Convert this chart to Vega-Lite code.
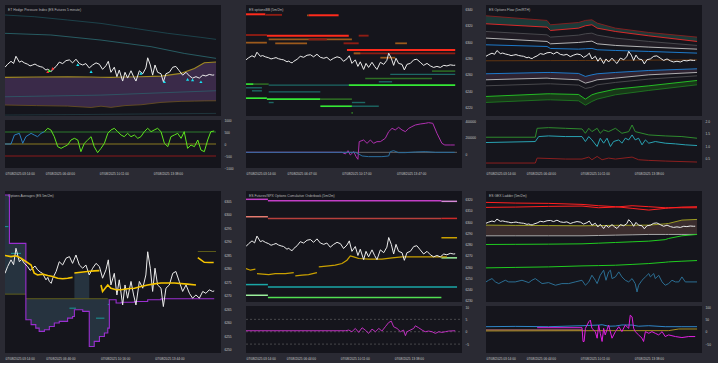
{
"$schema":"https://vega.github.io/schema/vega-lite/v6.json",
"background":"#2a2a33",
"padding":{"left":4,"top":5,"right":2,"bottom":2},
"spacing":15,
"resolve":{"scale":{"color":"independent","strokeWidth":"independent","x":"independent","y":"independent"}},
"config":{
 "view":{"fill":"#15151c","stroke":null},
 "axis":{"grid":false,"domain":false,"ticks":false,"labelFontSize":3.2,"labelColor":"#c8c8c8","labelPadding":3,"labelFont":"Liberation Sans"},
 "axisX":{"labelFlush":true,"minExtent":8,"maxExtent":8},
 "axisY":{"minExtent":14,"maxExtent":14},
 "title":{"anchor":"start","fontSize":3.4,"color":"#b8b8b8","fontWeight":"normal","offset":-6,"dx":3,"frame":"group","baseline":"bottom","font":"Liberation Sans"}
},
"datasets":{
 "px":[{"m":0,"v":6278.3},{"m":10,"v":6280.8},{"m":23,"v":6283.3},{"m":33,"v":6281.5},{"m":42,"v":6287.6},{"m":55,"v":6282.6},{"m":64,"v":6283.5},{"m":74,"v":6282.0},{"m":87,"v":6280.8},{"m":96,"v":6279.4},{"m":106,"v":6280.2},{"m":115,"v":6281.0},{"m":125,"v":6279.6},{"m":135,"v":6278.8},{"m":144,"v":6278.3},{"m":157,"v":6275.9},{"m":164,"v":6276.8},{"m":170,"v":6275.3},{"m":177,"v":6274.6},{"m":183,"v":6276.5},{"m":196,"v":6279.0},{"m":208,"v":6282.6},{"m":221,"v":6281.4},{"m":234,"v":6283.9},{"m":247,"v":6284.5},{"m":259,"v":6282.0},{"m":272,"v":6285.1},{"m":285,"v":6281.4},{"m":298,"v":6280.2},{"m":310,"v":6281.4},{"m":323,"v":6277.7},{"m":336,"v":6280.2},{"m":349,"v":6282.0},{"m":362,"v":6280.8},{"m":374,"v":6276.5},{"m":387,"v":6279.6},{"m":396,"v":6283.3},{"m":406,"v":6274.0},{"m":419,"v":6278.3},{"m":429,"v":6270.3},{"m":438,"v":6275.9},{"m":451,"v":6266.6},{"m":460,"v":6274.0},{"m":470,"v":6269.1},{"m":483,"v":6275.3},{"m":493,"v":6270.3},{"m":502,"v":6266.6},{"m":515,"v":6275.3},{"m":528,"v":6272.8},{"m":540,"v":6277.7},{"m":547,"v":6286.3},{"m":557,"v":6280.2},{"m":566,"v":6271.6},{"m":575,"v":6280.2},{"m":585,"v":6274.0},{"m":598,"v":6272.8},{"m":607,"v":6266.0},{"m":617,"v":6272.8},{"m":630,"v":6274.0},{"m":643,"v":6278.3},{"m":655,"v":6279.0},{"m":668,"v":6275.3},{"m":681,"v":6271.6},{"m":694,"v":6274.0},{"m":707,"v":6270.9},{"m":719,"v":6269.1},{"m":732,"v":6270.3},{"m":745,"v":6269.1},{"m":758,"v":6271.6},{"m":770,"v":6270.9},{"m":783,"v":6272.2},{"m":796,"v":6271.6},{"m":802,"v":6271.8}],
 "p1l":[{"s":"t1","m":0,"v":6322.5},{"s":"t1","m":112,"v":6321.1},{"s":"t1","m":240,"v":6318.3},{"s":"t1","m":368,"v":6315.4},{"s":"t1","m":496,"v":6311.2},{"s":"t1","m":624,"v":6307.0},{"s":"t1","m":751,"v":6303.6},{"s":"t1","m":809,"v":6301.9},
  {"s":"t2","m":0,"v":6307.0},{"s":"t2","m":176,"v":6305.6},{"s":"t2","m":368,"v":6301.3},{"s":"t2","m":560,"v":6295.7},{"s":"t2","m":687,"v":6290.0},{"s":"t2","m":809,"v":6285.8},
  {"s":"tm","m":0,"v":6253.3},{"s":"tm","m":368,"v":6254.7},{"s":"tm","m":809,"v":6258.4},
  {"s":"db","m":0,"v":6237.8},{"s":"db","m":368,"v":6238.4},{"s":"db","m":809,"v":6239.2}],
 "p1b":[{"m":0,"v":6269.7,"v2":6246.3},{"m":120,"v":6270.0,"v2":6245.8},{"m":240,"v":6270.3,"v2":6245.4},{"m":330,"v":6270.0,"v2":6244.2},{"m":368,"v":6269.8,"v2":6245.3},{"m":406,"v":6269.7,"v2":6244.3},{"m":460,"v":6270.0,"v2":6245.8},{"m":521,"v":6270.3,"v2":6246.5},{"m":598,"v":6270.8,"v2":6248.5},{"m":675,"v":6273.1,"v2":6249.4},{"m":726,"v":6277.3,"v2":6249.6},{"m":764,"v":6282.1,"v2":6249.8},{"m":809,"v":6282.7,"v2":6249.9}],
 "p1k":[{"s":"buy","m":279,"v":6280.6},{"s":"buy","m":330,"v":6274.5},{"s":"buy","m":521,"v":6273.1},{"s":"buy","m":611,"v":6266.0},{"s":"buy","m":700,"v":6268.0},{"s":"buy","m":719,"v":6267.5},{"s":"buy","m":751,"v":6266.0},{"s":"sell","m":164,"v":6274.5},{"s":"sell","m":183,"v":6277.3},{"s":"neutral","m":170,"v":6275.4}],
 "p1r":[{"s":"upper","m":0,"m2":809,"v":500},{"s":"mid","m":0,"m2":809,"v":0},{"s":"lower","m":0,"m2":809,"v":-500}],
 "p1o":[{"s":"b","m":0,"v":0},{"s":"b","m":23,"v":0},{"s":"b","m":36,"v":375},{"s":"b","m":55,"v":444},{"s":"b","m":68,"v":28},{"s":"b","m":80,"v":305},{"s":"b","m":100,"v":444},{"s":"b","m":112,"v":375},{"s":"b","m":125,"v":305},{"s":"b","m":138,"v":444},{"s":"b","m":151,"v":514},
  {"s":"g","m":151,"v":514},{"s":"g","m":164,"v":653},{"s":"g","m":176,"v":583},{"s":"g","m":189,"v":305},{"s":"g","m":202,"v":-111},{"s":"g","m":215,"v":-181},{"s":"g","m":227,"v":-111},{"s":"g","m":240,"v":-42},{"s":"g","m":253,"v":167},{"s":"g","m":266,"v":236},{"s":"g","m":279,"v":167},{"s":"g","m":291,"v":-320},{"s":"g","m":304,"v":28},{"s":"g","m":317,"v":167},{"s":"g","m":330,"v":305},{"s":"g","m":342,"v":-111},{"s":"g","m":355,"v":-361},{"s":"g","m":368,"v":-181},{"s":"g","m":381,"v":28},{"s":"g","m":394,"v":444},{"s":"g","m":406,"v":583},{"s":"g","m":419,"v":653},{"s":"g","m":432,"v":514},{"s":"g","m":445,"v":375},{"s":"g","m":457,"v":305},{"s":"g","m":470,"v":444},{"s":"g","m":483,"v":305},{"s":"g","m":496,"v":375},{"s":"g","m":509,"v":236},{"s":"g","m":521,"v":305},{"s":"g","m":534,"v":514},{"s":"g","m":547,"v":653},{"s":"g","m":560,"v":514},{"s":"g","m":572,"v":583},{"s":"g","m":585,"v":653},{"s":"g","m":598,"v":514},{"s":"g","m":611,"v":28},{"s":"g","m":624,"v":-111},{"s":"g","m":636,"v":305},{"s":"g","m":649,"v":375},{"s":"g","m":662,"v":444},{"s":"g","m":675,"v":236},{"s":"g","m":687,"v":514},{"s":"g","m":700,"v":-181},{"s":"g","m":713,"v":-42},{"s":"g","m":726,"v":-111},{"s":"g","m":739,"v":167},{"s":"g","m":751,"v":-250},{"s":"g","m":764,"v":-320},{"s":"g","m":777,"v":167},{"s":"g","m":789,"v":514},{"s":"g","m":802,"v":542}],
 "p2s":[{"s":"cs","m":0,"m2":74,"v":6333.7},{"s":"cm","m":74,"m2":138,"v":6333.0},{"s":"cw","m":234,"m2":240,"v":6332.5},{"s":"cs","m":240,"m2":355,"v":6332.5},{"s":"cm","m":0,"m2":80,"v":6308.5},{"s":"cs","m":80,"m2":394,"v":6307.7},{"s":"cm","m":432,"m2":470,"v":6307.7},{"s":"cw","m":87,"m2":406,"v":6303.2},{"s":"cm","m":240,"m2":310,"v":6303.2},{"s":"cw","m":0,"m2":80,"v":6299.2},{"s":"cw","m":112,"m2":234,"v":6298.4},{"s":"cm","m":374,"m2":432,"v":6298.4},{"s":"cw","m":572,"m2":617,"v":6298.4},{"s":"cs","m":387,"m2":802,"v":6290.2},{"s":"cm","m":413,"m2":802,"v":6286.2},{"s":"cw","m":413,"m2":438,"v":6286.2},{"s":"cw","m":515,"m2":572,"v":6280.9},{"s":"pm","m":713,"m2":802,"v":6264.6},{"s":"pw","m":553,"m2":802,"v":6260.6},{"s":"pm","m":457,"m2":713,"v":6255.7},{"s":"pw","m":509,"m2":560,"v":6251.6},{"s":"ps","m":0,"m2":29,"v":6248.8},{"s":"pm","m":29,"m2":87,"v":6248.8},{"s":"pw","m":87,"m2":394,"v":6247.5},{"s":"ps","m":394,"m2":802,"v":6247.5},{"s":"pw","m":0,"m2":61,"v":6244.3},{"s":"pw","m":23,"m2":61,"v":6240.6},{"s":"pw","m":87,"m2":285,"v":6239.4},{"s":"ps","m":0,"m2":80,"v":6231.7},{"s":"ps","m":80,"m2":285,"v":6230.5},{"s":"pm","m":285,"m2":406,"v":6230.5},{"s":"pw","m":87,"m2":106,"v":6226.4},{"s":"pw","m":406,"m2":457,"v":6226.4},{"s":"ps","m":285,"m2":406,"v":6221.9},{"s":"pw","m":406,"m2":509,"v":6221.9},{"s":"pm","m":404,"m2":410,"v":6213.8}],
 "p2o":[{"s":"net","m":0,"v":20450},{"s":"net","m":368,"v":20450},{"s":"net","m":381,"v":0},{"s":"net","m":391,"v":40900},{"s":"net","m":400,"v":-12270},{"s":"net","m":413,"v":28600},{"s":"net","m":422,"v":-32700},{"s":"net","m":429,"v":-65400},{"s":"net","m":434,"v":151300},{"s":"net","m":451,"v":171800},{"s":"net","m":464,"v":130900},{"s":"net","m":477,"v":171800},{"s":"net","m":489,"v":130900},{"s":"net","m":502,"v":151300},{"s":"net","m":515,"v":151300},{"s":"net","m":534,"v":192200},{"s":"net","m":547,"v":274000},{"s":"net","m":560,"v":314900},{"s":"net","m":572,"v":294500},{"s":"net","m":585,"v":327200},{"s":"net","m":598,"v":294500},{"s":"net","m":611,"v":274000},{"s":"net","m":624,"v":314900},{"s":"net","m":636,"v":335400},{"s":"net","m":649,"v":355800},{"s":"net","m":668,"v":368100},{"s":"net","m":687,"v":376300},{"s":"net","m":700,"v":384500},{"s":"net","m":716,"v":376300},{"s":"net","m":732,"v":253600},{"s":"net","m":751,"v":130900},{"s":"net","m":762,"v":110400},{"s":"net","m":783,"v":110400},{"s":"net","m":800,"v":110400},
  {"s":"gex","m":0,"v":20450},{"s":"gex","m":419,"v":20450},{"s":"gex","m":432,"v":0},{"s":"gex","m":445,"v":-24500},{"s":"gex","m":470,"v":-32700},{"s":"gex","m":521,"v":-32700},{"s":"gex","m":547,"v":-24500},{"s":"gex","m":553,"v":28600},{"s":"gex","m":566,"v":40900},{"s":"gex","m":585,"v":16400},{"s":"gex","m":611,"v":16400},{"s":"gex","m":649,"v":24500},{"s":"gex","m":687,"v":28600},{"s":"gex","m":726,"v":20450},{"s":"gex","m":800,"v":20450}],
 "p2r":[{"m":0,"m2":809,"v":20450}],
 "p3w":[{"m":0,"u":6343.6,"r":6330.7,"g1":6318.3,"w":6307.6,"b":6296.8,"br":6271.0,"b2":6250.1,"w2":6240.4,"g2":6230.7,"gr":6213.5,"dg":6203.8},
  {"m":234,"u":6336.1,"r":6325.3,"g1":6312.9,"w":6302.2,"b":6294.1,"br":6271.3,"b2":6252.2,"w2":6243.1,"g2":6233.9,"gr":6217.8,"dg":6208.1},
  {"m":247,"u":6329.1,"r":6319.9,"g1":6309.2,"w":6298.4,"b":6290.9,"br":6271.3,"b2":6252.2,"w2":6242.5,"g2":6233.9,"gr":6217.8,"dg":6208.1},
  {"m":355,"u":6332.8,"r":6323.7,"g1":6312.4,"w":6300.6,"b":6289.8,"br":6271.5,"b2":6250.6,"w2":6240.4,"g2":6231.8,"gr":6216.7,"dg":6206.5},
  {"m":381,"u":6336.1,"r":6327.5,"g1":6314.6,"w":6301.7,"b":6290.4,"br":6271.6,"b2":6245.8,"w2":6235.0,"g2":6226.4,"gr":6209.2,"dg":6199.5},
  {"m":406,"u":6337.1,"r":6329.1,"g1":6315.6,"w":6302.7,"b":6290.9,"br":6271.6,"b2":6248.4,"w2":6237.7,"g2":6228.5,"gr":6216.2,"dg":6205.4},
  {"m":426,"u":6331.8,"r":6323.7,"g1":6312.4,"w":6298.4,"b":6288.8,"br":6271.7,"b2":6250.1,"w2":6240.4,"g2":6232.3,"gr":6218.9,"dg":6209.2},
  {"m":496,"u":6323.7,"r":6318.3,"g1":6307.6,"w":6295.8,"b":6287.7,"br":6271.8,"b2":6252.2,"w2":6243.1,"g2":6236.1,"gr":6225.3,"dg":6216.2},
  {"m":624,"u":6316.7,"r":6311.3,"g1":6302.2,"w":6293.1,"b":6286.1,"br":6272.1,"b2":6255.4,"w2":6248.4,"g2":6241.5,"gr":6230.7,"dg":6223.2},
  {"m":809,"u":6309.2,"r":6302.2,"g1":6295.8,"w":6289.8,"b":6283.4,"br":6272.6,"b2":6258.1,"w2":6252.2,"g2":6246.8,"gr":6239.3,"dg":6232.3}],
 "p3o":[{"s":"g","m":0,"v":1.361},{"s":"g","m":189,"v":1.361},{"s":"g","m":196,"v":1.728},{"s":"g","m":240,"v":1.755},{"s":"g","m":304,"v":1.728},{"s":"g","m":368,"v":1.701},{"s":"g","m":381,"v":1.524},{"s":"g","m":394,"v":1.728},{"s":"g","m":406,"v":1.592},{"s":"g","m":426,"v":1.728},{"s":"g","m":438,"v":1.524},{"s":"g","m":451,"v":1.66},{"s":"g","m":470,"v":1.592},{"s":"g","m":496,"v":1.728},{"s":"g","m":521,"v":1.524},{"s":"g","m":547,"v":1.592},{"s":"g","m":560,"v":1.864},{"s":"g","m":572,"v":1.592},{"s":"g","m":598,"v":1.524},{"s":"g","m":624,"v":1.456},{"s":"g","m":687,"v":1.415},{"s":"g","m":751,"v":1.388},{"s":"g","m":809,"v":1.32},
  {"s":"t","m":0,"v":1.143},{"s":"t","m":189,"v":1.184},{"s":"t","m":202,"v":1.388},{"s":"t","m":240,"v":1.415},{"s":"t","m":304,"v":1.388},{"s":"t","m":368,"v":1.388},{"s":"t","m":381,"v":1.184},{"s":"t","m":394,"v":1.388},{"s":"t","m":406,"v":1.252},{"s":"t","m":426,"v":0.98},{"s":"t","m":438,"v":1.32},{"s":"t","m":451,"v":1.116},{"s":"t","m":464,"v":1.32},{"s":"t","m":477,"v":0.98},{"s":"t","m":489,"v":1.184},{"s":"t","m":509,"v":1.252},{"s":"t","m":521,"v":1.116},{"s":"t","m":534,"v":1.32},{"s":"t","m":547,"v":1.252},{"s":"t","m":560,"v":1.456},{"s":"t","m":572,"v":1.252},{"s":"t","m":585,"v":1.32},{"s":"t","m":598,"v":1.048},{"s":"t","m":611,"v":1.252},{"s":"t","m":624,"v":1.116},{"s":"t","m":649,"v":1.184},{"s":"t","m":687,"v":1.116},{"s":"t","m":726,"v":1.088},{"s":"t","m":764,"v":1.048},{"s":"t","m":809,"v":1.02},
  {"s":"r","m":0,"v":0.299},{"s":"r","m":189,"v":0.299},{"s":"r","m":196,"v":0.503},{"s":"r","m":304,"v":0.463},{"s":"r","m":368,"v":0.463},{"s":"r","m":394,"v":0.544},{"s":"r","m":406,"v":0.435},{"s":"r","m":426,"v":0.571},{"s":"r","m":445,"v":0.435},{"s":"r","m":470,"v":0.503},{"s":"r","m":496,"v":0.463},{"s":"r","m":560,"v":0.544},{"s":"r","m":585,"v":0.435},{"s":"r","m":624,"v":0.408},{"s":"r","m":687,"v":0.381},{"s":"r","m":809,"v":0.34}],
 "p4c":[{"m":0,"v":6307.3,"v2":6270.6},{"m":17,"v":6289.4,"v2":6270.6},{"m":80,"v":6268.9,"v2":6261.1},{"m":100,"v":6268.9,"v2":6259.3},{"m":118,"v":6268.9,"v2":6258.0},{"m":131,"v":6268.9,"v2":6256.8},{"m":151,"v":6268.9,"v2":6257.4},{"m":170,"v":6268.9,"v2":6258.6},{"m":189,"v":6268.9,"v2":6259.9},{"m":208,"v":6268.9,"v2":6260.5},{"m":240,"v":6268.9,"v2":6261.7},{"m":259,"v":6268.9,"v2":6262.3},{"m":266,"v":6278.4,"v2":6264.8},{"m":298,"v":6278.4,"v2":6264.2},{"m":323,"v":6268.9,"v2":6251.2},{"m":342,"v":6268.9,"v2":6253.1},{"m":362,"v":6268.9,"v2":6254.9},{"m":381,"v":6268.9,"v2":6256.2},{"m":394,"v":6268.9,"v2":6258.0},{"m":400,"v":6268.5,"v2":6268.5}],
 "p4p":[{"m":0,"v":6307.3},{"m":17,"v":6289.4},{"m":80,"v":6261.1},{"m":100,"v":6259.3},{"m":118,"v":6258.0},{"m":131,"v":6256.8},{"m":151,"v":6257.4},{"m":170,"v":6258.6},{"m":189,"v":6259.9},{"m":208,"v":6260.5},{"m":240,"v":6261.7},{"m":259,"v":6262.3},{"m":266,"v":6264.8},{"m":298,"v":6264.2},{"m":323,"v":6251.2},{"m":342,"v":6253.1},{"m":362,"v":6254.9},{"m":381,"v":6256.2},{"m":394,"v":6258.0},{"m":400,"v":6268.5},{"m":426,"v":6267.3},{"m":445,"v":6267.6},{"m":496,"v":6267.9},{"m":547,"v":6268.5},{"m":598,"v":6268.9},{"m":802,"v":6268.9}],
 "p4y":[{"g":"a","m":0,"v":6284.9},{"g":"a","m":23,"v":6284.5},{"g":"a","m":42,"v":6284.8},{"g":"a","m":61,"v":6283.9},{"g":"a","m":80,"v":6282.7},{"g":"a","m":100,"v":6281.4},{"g":"a","m":112,"v":6278.4},{"g":"a","m":125,"v":6277.7},{"g":"a","m":144,"v":6278.0},{"g":"a","m":164,"v":6277.5},{"g":"a","m":183,"v":6277.1},{"g":"a","m":202,"v":6276.5},{"g":"a","m":221,"v":6276.3},{"g":"a","m":240,"v":6276.5},{"g":"a","m":259,"v":6276.8},
  {"g":"b","m":266,"v":6278.4},{"g":"b","m":291,"v":6278.7},{"g":"b","m":317,"v":6279.0},{"g":"b","m":342,"v":6279.2},{"g":"b","m":362,"v":6279.3},
  {"g":"c","m":368,"v":6274.0},{"g":"c","m":374,"v":6271.6},{"g":"c","m":394,"v":6274.0},{"g":"c","m":406,"v":6272.8},{"g":"c","m":426,"v":6272.2},{"g":"c","m":445,"v":6272.2},{"g":"c","m":470,"v":6272.6},{"g":"c","m":496,"v":6272.8},{"g":"c","m":521,"v":6273.4},{"g":"c","m":547,"v":6274.0},{"g":"c","m":572,"v":6274.4},{"g":"c","m":598,"v":6274.7},{"g":"c","m":649,"v":6274.7},{"g":"c","m":700,"v":6274.3},{"g":"c","m":732,"v":6274.0},
  {"g":"d","m":739,"v":6284.1},{"g":"d","m":751,"v":6283.3},{"g":"d","m":764,"v":6282.4},{"g":"d","m":783,"v":6282.3},{"g":"d","m":800,"v":6282.3}],
 "p4r":[{"s":"olive","m":0,"m2":80,"v":6270.6},{"s":"olive","m":80,"m2":394,"v":6268.9},{"s":"olive","m":739,"m2":809,"v":6286.4},{"s":"teal","m":0,"m2":13,"v":6295.6},{"s":"teal","m":23,"m2":61,"v":6285.7},{"s":"teal","m":247,"m2":272,"v":6265.4},{"s":"teal","m":349,"m2":381,"v":6261.7},{"s":"teal","m":394,"m2":400,"v":6266.8}],
 "p5r":[{"s":"mg","m":0,"m2":84,"v":6320.3},{"s":"mg","m":84,"m2":749,"v":6319.1},{"s":"mgl","m":749,"m2":809,"v":6318.5},{"s":"sl","m":0,"m2":84,"v":6304.8},{"s":"rd","m":84,"m2":749,"v":6303.3},{"s":"rb","m":749,"m2":809,"v":6303.3},{"s":"gd","m":749,"m2":809,"v":6286.1},{"s":"lg","m":749,"m2":809,"v":6268.2},{"s":"tl","m":0,"m2":84,"v":6244.4},{"s":"tl","m":84,"m2":809,"v":6242.3},{"s":"lg","m":0,"m2":84,"v":6234.9},{"s":"gn","m":84,"m2":749,"v":6232.8}],
 "p5g":[{"g":"s1","m":0,"v":6258.7},{"g":"s1","m":17,"v":6257.2},{"g":"s1","m":36,"v":6258.1},
  {"g":"s2","m":42,"v":6254.2},{"g":"s2","m":87,"v":6253.3},{"g":"s2","m":112,"v":6254.2},{"g":"s2","m":151,"v":6254.2},{"g":"s2","m":183,"v":6255.1},
  {"g":"s3","m":189,"v":6252.2},{"g":"s3","m":215,"v":6252.8},{"g":"s3","m":240,"v":6253.3},{"g":"s3","m":272,"v":6255.1},
  {"g":"s4","m":279,"v":6260.2},{"g":"s4","m":317,"v":6261.1},{"g":"s4","m":342,"v":6261.7},{"g":"s4","m":368,"v":6263.2},{"g":"s4","m":387,"v":6266.1},{"g":"s4","m":400,"v":6270.0},{"g":"s4","m":413,"v":6269.1},{"g":"s4","m":432,"v":6267.6},{"g":"s4","m":470,"v":6267.0},{"g":"s4","m":521,"v":6267.0},{"g":"s4","m":560,"v":6268.2},{"g":"s4","m":598,"v":6269.1},{"g":"s4","m":649,"v":6269.1},{"g":"s4","m":700,"v":6269.1},{"g":"s4","m":751,"v":6269.1},{"g":"s4","m":770,"v":6269.1}],
 "p5o":[{"m":0,"v":0.4},{"m":381,"v":0.4},{"m":394,"v":0.67},{"m":406,"v":0},{"m":419,"v":1.33},{"m":432,"v":-0.27},{"m":445,"v":1.6},{"m":457,"v":0.67},{"m":470,"v":-0.67},{"m":483,"v":1.07},{"m":496,"v":0},{"m":509,"v":1.33},{"m":521,"v":0.27},{"m":534,"v":2.0},{"m":547,"v":3.73},{"m":557,"v":4.27},{"m":566,"v":2.0},{"m":579,"v":1.33},{"m":592,"v":0},{"m":604,"v":0.67},{"m":611,"v":-1.6},{"m":617,"v":0},{"m":630,"v":0.67},{"m":643,"v":1.33},{"m":649,"v":2.4},{"m":662,"v":1.6},{"m":675,"v":0.67},{"m":687,"v":0},{"m":700,"v":0.27},{"m":713,"v":0},{"m":726,"v":-0.67},{"m":739,"v":0},{"m":751,"v":-0.27},{"m":764,"v":0},{"m":777,"v":0.27},{"m":802,"v":0.4}],
 "p5d":[{"m":0,"m2":828,"v":5},{"m":0,"m2":828,"v":0},{"m":0,"m2":828,"v":-5}],
 "p6w":[{"m":0,"r1":6324.6,"r2":6313.5,"ol":6274.2,"gy":6250.5,"g1":6231.3,"g2":6179.4},
  {"m":112,"r1":6323.1,"r2":6314.2,"ol":6273.6,"gy":6250.5,"g1":6231.6,"g2":6180.5},
  {"m":240,"r1":6322.4,"r2":6315.7,"ol":6273.2,"gy":6250.5,"g1":6232.0,"g2":6181.6},
  {"m":368,"r1":6320.1,"r2":6316.4,"ol":6272.7,"gy":6250.5,"g1":6232.7,"g2":6183.8},
  {"m":432,"r1":6317.2,"r2":6312.7,"ol":6273.2,"gy":6251.2,"g1":6234.2,"g2":6184.5},
  {"m":496,"r1":6315.0,"r2":6314.2,"ol":6273.7,"gy":6252.0,"g1":6235.7,"g2":6185.3},
  {"m":560,"r1":6311.3,"r2":6317.2,"ol":6273.9,"gy":6252.7,"g1":6237.2,"g2":6187.1},
  {"m":624,"r1":6307.5,"r2":6315.0,"ol":6274.2,"gy":6253.5,"g1":6238.7,"g2":6189.0},
  {"m":687,"r1":6311.3,"r2":6312.7,"ol":6277.0,"gy":6253.5,"g1":6242.0,"g2":6191.9},
  {"m":700,"r1":6312.0,"r2":6312.7,"ol":6277.9,"gy":6253.5,"g1":6244.6,"g2":6192.7},
  {"m":751,"r1":6314.2,"r2":6312.7,"ol":6285.3,"gy":6253.5,"g1":6250.5,"g2":6194.2},
  {"m":809,"r1":6315.0,"r2":6312.7,"ol":6286.8,"gy":6253.5,"g1":6253.5,"g2":6195.7}],
 "p6t":[{"m":0,"v":6148.3},{"m":10,"v":6152.0},{"m":23,"v":6155.7},{"m":36,"v":6148.3},{"m":49,"v":6144.6},{"m":61,"v":6148.3},{"m":74,"v":6152.0},{"m":87,"v":6148.3},{"m":112,"v":6148.3},{"m":138,"v":6152.0},{"m":164,"v":6146.8},{"m":176,"v":6152.0},{"m":189,"v":6155.7},{"m":215,"v":6144.6},{"m":240,"v":6146.8},{"m":266,"v":6140.9},{"m":291,"v":6144.6},{"m":317,"v":6144.6},{"m":342,"v":6148.3},{"m":368,"v":6152.0},{"m":381,"v":6140.9},{"m":394,"v":6148.3},{"m":406,"v":6163.1},{"m":419,"v":6152.0},{"m":426,"v":6144.6},{"m":438,"v":6163.1},{"m":451,"v":6174.2},{"m":460,"v":6152.0},{"m":470,"v":6170.5},{"m":477,"v":6174.2},{"m":483,"v":6155.7},{"m":496,"v":6159.4},{"m":509,"v":6170.5},{"m":521,"v":6159.4},{"m":534,"v":6152.0},{"m":547,"v":6148.3},{"m":560,"v":6155.7},{"m":572,"v":6144.6},{"m":579,"v":6126.1},{"m":585,"v":6140.9},{"m":598,"v":6152.0},{"m":611,"v":6159.4},{"m":624,"v":6166.8},{"m":630,"v":6159.4},{"m":643,"v":6166.8},{"m":649,"v":6155.7},{"m":662,"v":6163.1},{"m":675,"v":6148.3},{"m":687,"v":6140.9},{"m":700,"v":6144.6},{"m":713,"v":6152.0},{"m":726,"v":6148.3},{"m":739,"v":6148.3},{"m":751,"v":6159.4},{"m":764,"v":6148.3},{"m":809,"v":6148.3}],
 "p6o":[{"s":"bl","m":0,"v":20},{"s":"bl","m":112,"v":21.3},{"s":"bl","m":240,"v":20},{"s":"bl","m":368,"v":24},{"s":"bl","m":432,"v":26.7},{"s":"bl","m":445,"v":28},{"s":"bl","m":470,"v":22},{"s":"bl","m":496,"v":22.7},{"s":"bl","m":521,"v":27},{"s":"bl","m":560,"v":26.7},{"s":"bl","m":585,"v":22},{"s":"bl","m":624,"v":24},{"s":"bl","m":687,"v":20},{"s":"bl","m":751,"v":20},{"s":"bl","m":809,"v":20},
  {"s":"sa","m":0,"v":6.7},{"s":"sa","m":368,"v":6.7},
  {"s":"ol","m":0,"v":2.7},{"s":"ol","m":496,"v":4},{"s":"ol","m":700,"v":4},{"s":"ol","m":739,"v":10.7},{"s":"ol","m":809,"v":10.7},
  {"s":"mg","m":196,"v":16},{"s":"mg","m":368,"v":16},{"s":"mg","m":372,"v":-40},{"s":"mg","m":376,"v":-40},{"s":"mg","m":381,"v":13.3},{"s":"mg","m":394,"v":40},{"s":"mg","m":400,"v":46.7},{"s":"mg","m":406,"v":13.3},{"s":"mg","m":419,"v":0},{"s":"mg","m":426,"v":-26.7},{"s":"mg","m":432,"v":26.7},{"s":"mg","m":438,"v":-6.7},{"s":"mg","m":445,"v":-40},{"s":"mg","m":451,"v":13.3},{"s":"mg","m":457,"v":-13.3},{"s":"mg","m":470,"v":26.7},{"s":"mg","m":483,"v":-26.7},{"s":"mg","m":496,"v":0},{"s":"mg","m":509,"v":20},{"s":"mg","m":521,"v":0},{"s":"mg","m":534,"v":26.7},{"s":"mg","m":547,"v":13.3},{"s":"mg","m":553,"v":66.7},{"s":"mg","m":560,"v":60},{"s":"mg","m":566,"v":13.3},{"s":"mg","m":572,"v":0},{"s":"mg","m":585,"v":-13.3},{"s":"mg","m":598,"v":-26.7},{"s":"mg","m":604,"v":-40},{"s":"mg","m":611,"v":0},{"s":"mg","m":624,"v":-6.7},{"s":"mg","m":636,"v":0},{"s":"mg","m":649,"v":-6.7},{"s":"mg","m":662,"v":-13.3},{"s":"mg","m":675,"v":0},{"s":"mg","m":687,"v":-20},{"s":"mg","m":700,"v":-13.3},{"s":"mg","m":726,"v":-20},{"s":"mg","m":751,"v":-24},{"s":"mg","m":777,"v":-20},{"s":"mg","m":802,"v":-20}]
},
"vconcat":[
 {"hconcat":[
  {"vconcat":[
   {"width":216,"height":111,"title":"ET Hedge Pressure Index (ES Futures 5 minute)",
    "encoding":{"x":{"field":"m","type":"quantitative","scale":{"domain":[0,828]},"axis":null},
     "y":{"field":"v","type":"quantitative","title":null,"scale":{"domain":[6237,6331]},"axis":{"orient":"right","format":"d","values":[6240,6250,6260,6270,6280,6290,6300,6310,6320]}}},
    "layer":[
     {"data":{"name":"p1b"},"mark":{"type":"area","color":"#3a2a49","clip":true},"encoding":{"y2":{"field":"v2"}}},
     {"data":{"name":"p1l"},"mark":{"type":"line","clip":true,"strokeWidth":0.8},"encoding":{"color":{"field":"s","type":"nominal","legend":null,"scale":{"domain":["t1","t2","tm","db"],"range":["#1e4d55","#2c6d74","#2d5d6a","#223c44"]}}}},
     {"data":{"name":"p1b"},"mark":{"type":"line","clip":true,"color":"#a08a22","strokeWidth":1.1}},
     {"data":{"name":"p1b"},"mark":{"type":"line","clip":true,"color":"#6e5420","strokeWidth":0.8},"encoding":{"y":{"field":"v2","type":"quantitative","title":null,"scale":{"domain":[6237,6331]},"axis":null}}},
     {"data":{"name":"px"},"mark":{"type":"line","clip":true,"color":"#ececec","strokeWidth":1}},
     {"data":{"name":"p1k"},"mark":{"type":"point","shape":"triangle-up","filled":true,"opacity":1,"size":10,"clip":true},"encoding":{"color":{"field":"s","type":"nominal","legend":null,"scale":{"domain":["buy","sell","neutral"],"range":["#18e0f0","#ff3030","#30ff30"]}}}}
    ],
    "resolve":{"scale":{"color":"independent"}}},
   {"width":216,"height":48,
    "encoding":{"x":{"field":"m","type":"quantitative","title":null,"scale":{"domain":[0,828]},"axis":{"values":[0,210,417,624],"labelExpr":"timeFormat(datetime(2025,6,8,3,14+datum.value),'%m/%d/%Y %H:%M:%S')"}},
     "y":{"field":"v","type":"quantitative","title":null,"scale":{"domain":[-1000,1000]},"axis":{"orient":"right","format":"d","values":[-1000,-500,0,500,1000]}}},
    "layer":[
     {"data":{"name":"p1r"},"mark":{"type":"rule","strokeWidth":1},"encoding":{"x2":{"field":"m2"},"color":{"field":"s","type":"nominal","legend":null,"scale":{"domain":["upper","mid","lower"],"range":["#2c7a2c","#8a7a20","#8c1b1b"]}}}},
     {"data":{"name":"p1o"},"mark":{"type":"line","clip":true,"strokeWidth":1},"encoding":{"color":{"field":"s","type":"nominal","legend":null,"scale":{"domain":["b","g"],"range":["#2a7fc0","#5ee61e"]}}}}
    ],
    "resolve":{"scale":{"color":"independent"}}}
  ],"spacing":4,"bounds":"flush","resolve":{"scale":{"color":"independent","strokeWidth":"independent"}}},
  {"vconcat":[
   {"width":216,"height":111,"title":"ES optionsBB (5m/2m)",
    "encoding":{"x":{"field":"m","type":"quantitative","scale":{"domain":[0,828]},"axis":null},
     "y":{"field":"v","type":"quantitative","title":null,"scale":{"domain":[6210,6345]},"axis":{"orient":"right","format":"d","values":[6220,6240,6260,6280,6300,6320,6340]}}},
    "layer":[
     {"data":{"name":"p2s"},"mark":{"type":"rule"},"encoding":{"x2":{"field":"m2"},
      "color":{"field":"s","type":"nominal","legend":null,"scale":{"domain":["cs","cm","cw","ps","pm","pw"],"range":["#ff2b1c","#8e1d14","#9c5a1c","#35e835","#2f6e24","#1d6864"]}},
      "strokeWidth":{"field":"s","type":"ordinal","legend":null,"scale":{"domain":["cs","cm","cw","ps","pm","pw"],"range":[2,1.4,1.2,2,1.4,1.2]}}}},
     {"data":{"name":"px"},"mark":{"type":"line","clip":true,"color":"#ececec","strokeWidth":1}}
    ],
    "resolve":{"scale":{"color":"independent","strokeWidth":"independent"}}},
   {"width":216,"height":48,
    "encoding":{"x":{"field":"m","type":"quantitative","title":null,"scale":{"domain":[0,828]},"axis":{"values":[0,213,423,633],"labelExpr":"timeFormat(datetime(2025,6,8,3,14+datum.value),'%m/%d/%Y %H:%M:%S')"}},
     "y":{"field":"v","type":"quantitative","title":null,"scale":{"domain":[-172000,417000]},"axis":{"orient":"right","format":"d","values":[0,200000,400000]}}},
    "layer":[
     {"data":{"name":"p2r"},"mark":{"type":"rule","strokeWidth":0.6,"color":"#9a9a9a"},"encoding":{"x2":{"field":"m2"}}},
     {"data":{"name":"p2o"},"mark":{"type":"line","clip":true,"strokeWidth":1},"encoding":{"color":{"field":"s","type":"nominal","legend":null,"scale":{"domain":["gex","net"],"range":["#2a6e9e","#b030b0"]}}}}
    ],
    "resolve":{"scale":{"color":"independent"}}}
  ],"spacing":4,"bounds":"flush","resolve":{"scale":{"color":"independent","strokeWidth":"independent"}}},
  {"vconcat":[
   {"width":216,"height":111,"title":"ES Options Flow (5m/RTH)",
    "encoding":{"x":{"field":"m","type":"quantitative","scale":{"domain":[0,828]},"axis":null},
     "y":{"field":"v","type":"quantitative","title":null,"scale":{"domain":[6182,6361]},"axis":{"orient":"right","format":"d","values":[6190,6210,6230,6250,6270,6290,6310,6330,6350]}}},
    "layer":[
     {"data":{"name":"p3w"},"mark":{"type":"area","color":"#1c3a38","clip":true},"encoding":{"y":{"field":"u","type":"quantitative","title":null,"scale":{"domain":[6182,6361]},"axis":null},"y2":{"field":"r"}}},
     {"data":{"name":"p3w"},"mark":{"type":"area","color":"#201c24","clip":true},"encoding":{"y":{"field":"g1","type":"quantitative","title":null,"scale":{"domain":[6182,6361]},"axis":null},"y2":{"field":"w"}}},
     {"data":{"name":"p3w"},"mark":{"type":"area","color":"#2e2331","clip":true},"encoding":{"y":{"field":"b2","type":"quantitative","title":null,"scale":{"domain":[6182,6361]},"axis":null},"y2":{"field":"w2"}}},
     {"data":{"name":"p3w"},"mark":{"type":"area","color":"#183818","clip":true},"encoding":{"y":{"field":"gr","type":"quantitative","title":null,"scale":{"domain":[6182,6361]},"axis":null},"y2":{"field":"dg"}}},
     {"data":{"name":"p3w"},"transform":[{"fold":["u","g1","g2","br","dg","w","w2","r","b","b2","gr"],"as":["s","v"]}],"mark":{"type":"line","clip":true},
      "encoding":{"color":{"field":"s","type":"nominal","legend":null,"scale":{"domain":["u","g1","g2","br","dg","w","w2","r","b","b2","gr"],"range":["#8a1f1f","#4e4e52","#4e4e52","#6e3b10","#1f7a22","#d0d0d0","#c8c8c8","#ff2a2a","#1f8ff0","#1f8ff0","#28e028"]}},
       "strokeWidth":{"field":"s","type":"ordinal","legend":null,"scale":{"domain":["u","g1","g2","br","dg","w","w2","r","b","b2","gr"],"range":[0.9,0.8,0.8,0.8,1,1.2,1.2,1.7,1.7,1.7,1.7]}}}},
     {"data":{"name":"px"},"mark":{"type":"line","clip":true,"color":"#ececec","strokeWidth":1}}
    ],
    "resolve":{"scale":{"color":"independent","strokeWidth":"independent"}}},
   {"width":216,"height":48,
    "encoding":{"x":{"field":"m","type":"quantitative","title":null,"scale":{"domain":[0,828]},"axis":{"values":[0,210,417,624],"labelExpr":"timeFormat(datetime(2025,6,8,3,14+datum.value),'%m/%d/%Y %H:%M:%S')"}},
     "y":{"field":"v","type":"quantitative","title":null,"scale":{"domain":[0.095,2.07]},"axis":{"orient":"right","values":[0.5,1,1.5,2],"format":".1f"}}},
    "layer":[
     {"data":{"name":"p3o"},"mark":{"type":"line","clip":true,"strokeWidth":1},"encoding":{"color":{"field":"s","type":"nominal","legend":null,"scale":{"domain":["g","t","r"],"range":["#2e8b2e","#29a3b3","#8c1f1f"]}}}}
    ]}
  ],"spacing":4,"bounds":"flush","resolve":{"scale":{"color":"independent","strokeWidth":"independent"}}}
 ],"spacing":10,"resolve":{"scale":{"color":"independent","strokeWidth":"independent"}}},
 {"hconcat":[
  {"width":216,"height":162,"title":"Options Averages (ES 5m/2m)",
   "encoding":{"x":{"field":"m","type":"quantitative","title":null,"scale":{"domain":[0,828]},"axis":{"values":[0,212,422,630],"labelExpr":"timeFormat(datetime(2025,6,8,3,14+datum.value),'%m/%d/%Y %H:%M:%S')"}},
    "y":{"field":"v","type":"quantitative","title":null,"scale":{"domain":[6248.8,6308.8]},"axis":{"orient":"right","format":"d","values":[6250,6255,6260,6265,6270,6275,6280,6285,6290,6295,6300,6305]}}},
   "layer":[
    {"data":{"name":"p4c"},"mark":{"type":"area","interpolate":"step-after","color":"#26333f","clip":true},"encoding":{"y2":{"field":"v2"}}},
    {"data":{"name":"p4r"},"mark":{"type":"rule","strokeWidth":1},"encoding":{"x2":{"field":"m2"},"color":{"field":"s","type":"nominal","legend":null,"scale":{"domain":["olive","teal"],"range":["#5f5d1a","#1b9a9a"]}}}},
    {"data":{"name":"p4p"},"mark":{"type":"line","interpolate":"step-after","clip":true,"color":"#9a2fd0","strokeWidth":1.1}},
    {"data":{"name":"px"},"mark":{"type":"line","clip":true,"color":"#ececec","strokeWidth":1}},
    {"data":{"name":"p4y"},"mark":{"type":"line","clip":true,"color":"#f5c400","strokeWidth":1.6},"encoding":{"detail":{"field":"g"}}}
   ]},
  {"vconcat":[
   {"width":216,"height":111,"title":"ES Futures/SPX Options Cumulative Orderbook (5m/2m)",
    "encoding":{"x":{"field":"m","type":"quantitative","scale":{"domain":[0,828]},"axis":null},
     "y":{"field":"v","type":"quantitative","title":null,"scale":{"domain":[6228.9,6327.7]},"axis":{"orient":"right","format":"d","values":[6230,6240,6250,6260,6270,6280,6290,6300,6310,6320]}}},
    "layer":[
     {"data":{"name":"p5r"},"mark":{"type":"rule","strokeWidth":1.5},"encoding":{"x2":{"field":"m2"},"color":{"field":"s","type":"nominal","legend":null,"scale":{"domain":["mg","mgl","sl","rd","rb","gd","lg","tl","gn"],"range":["#c23fc6","#d68ad8","#e57b70","#b8403c","#cc2a2a","#c9a000","#9cf09c","#1aa7a7","#52e052"]}}}},
     {"data":{"name":"p5g"},"mark":{"type":"line","clip":true,"color":"#c9a000","strokeWidth":1.2},"encoding":{"detail":{"field":"g"}}},
     {"data":{"name":"px"},"mark":{"type":"line","clip":true,"color":"#ececec","strokeWidth":1}}
    ]},
   {"width":216,"height":47,
    "encoding":{"x":{"field":"m","type":"quantitative","title":null,"scale":{"domain":[0,828]},"axis":{"values":[0,210,417,624],"labelExpr":"timeFormat(datetime(2025,6,8,3,14+datum.value),'%m/%d/%Y %H:%M:%S')"}},
     "y":{"field":"v","type":"quantitative","title":null,"scale":{"domain":[-8.6,10.4]},"axis":{"orient":"right","format":"d","values":[-5,0,5,10]}}},
    "layer":[
     {"data":{"name":"p5d"},"mark":{"type":"rule","strokeWidth":0.6,"color":"#6a6a6a","strokeDash":[2,2]},"encoding":{"x2":{"field":"m2"}}},
     {"data":{"name":"p5o"},"mark":{"type":"line","clip":true,"color":"#c030c0","strokeWidth":1}}
    ]}
  ],"spacing":4,"bounds":"flush","resolve":{"scale":{"color":"independent","strokeWidth":"independent"}}},
  {"vconcat":[
   {"width":216,"height":111,"title":"ES GEX Ladder (5m/2m)",
    "encoding":{"x":{"field":"m","type":"quantitative","scale":{"domain":[0,828]},"axis":null},
     "y":{"field":"v","type":"quantitative","title":null,"scale":{"domain":[6103.8,6349.8]},"axis":{"orient":"right","format":"d","values":[6110,6160,6210,6260,6310]}}},
    "layer":[
     {"data":{"name":"p6w"},"mark":{"type":"area","color":"#3b2d2e","clip":true},"encoding":{"y":{"field":"ol","type":"quantitative","title":null,"scale":{"domain":[6103.8,6349.8]},"axis":null},"y2":{"field":"gy"}}},
     {"data":{"name":"p6w"},"transform":[{"fold":["gy","ol","g1","g2","r1","r2"],"as":["s","v"]}],"mark":{"type":"line","clip":true},
      "encoding":{"color":{"field":"s","type":"nominal","legend":null,"scale":{"domain":["gy","ol","g1","g2","r1","r2"],"range":["#a6a6a6","#9c9c22","#20cc20","#20cc20","#ff2020","#ff2020"]}},
       "strokeWidth":{"field":"s","type":"ordinal","legend":null,"scale":{"domain":["gy","ol","g1","g2","r1","r2"],"range":[1,1,1.7,1.7,1.5,1.5]}}}},
     {"data":{"name":"p6t"},"mark":{"type":"line","clip":true,"color":"#2b6e93","strokeWidth":1}},
     {"data":{"name":"px"},"mark":{"type":"line","clip":true,"color":"#ececec","strokeWidth":1}}
    ],
    "resolve":{"scale":{"color":"independent","strokeWidth":"independent"}}},
   {"width":216,"height":47,
    "encoding":{"x":{"field":"m","type":"quantitative","title":null,"scale":{"domain":[0,828]},"axis":{"values":[0,210,417,624],"labelExpr":"timeFormat(datetime(2025,6,8,3,14+datum.value),'%m/%d/%Y %H:%M:%S')"}},
     "y":{"field":"v","type":"quantitative","title":null,"scale":{"domain":[-86.7,104]},"axis":{"orient":"right","format":"d","values":[-50,0,50,100]}}},
    "layer":[
     {"data":{"name":"p6o"},"mark":{"type":"line","clip":true,"strokeWidth":1},"encoding":{"color":{"field":"s","type":"nominal","legend":null,"scale":{"domain":["bl","sa","ol","mg"],"range":["#2f86c8","#d88484","#a88e22","#e020e0"]}}}}
    ]}
  ],"spacing":4,"bounds":"flush","resolve":{"scale":{"color":"independent","strokeWidth":"independent"}}}
 ],"spacing":10,"resolve":{"scale":{"color":"independent","strokeWidth":"independent"}}}
]
}
